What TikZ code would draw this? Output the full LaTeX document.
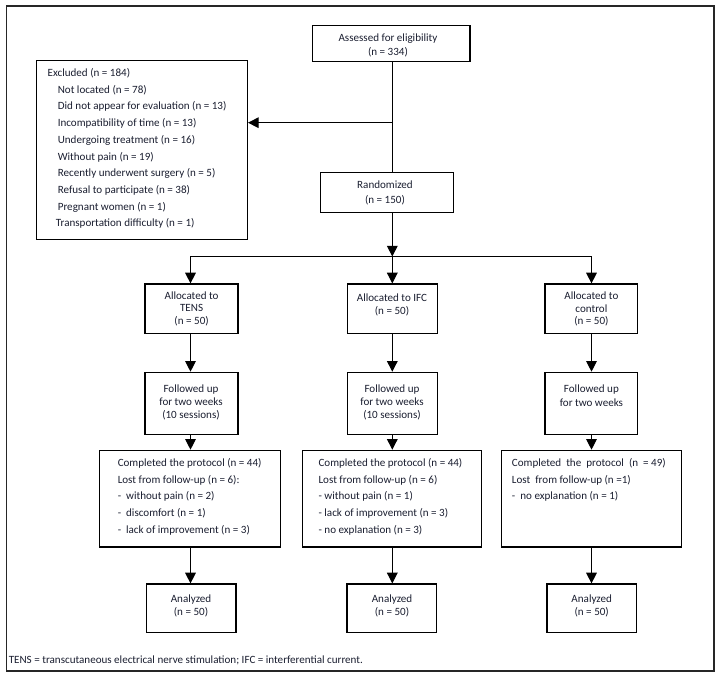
\documentclass[tikz,border=0pt]{standalone}
\usepackage{fontspec}
\setmainfont{Carlito}
\usetikzlibrary{arrows.meta,fit}
\definecolor{ink}{HTML}{1A1E30}
\begin{document}
\begin{tikzpicture}[x=0.75pt,y=-0.75pt,
  box/.style={draw=black, line width=0.9pt, inner sep=0pt},
  lbl/.style={inner sep=0pt, text=ink, align=center, font={\fontsize{8.3}{#1}\selectfont}},
  lbl/.default=10,
  lbll/.style={inner sep=0pt, text=ink, align=left, anchor=north west, font={\fontsize{8.3}{#1}\selectfont}},
  lbll/.default=12.5,
  conn/.style={draw=black, line width=0.75pt},
  arr/.style={conn, -{Triangle[width=8pt,length=8pt]}}]
\useasboundingbox (0,0) rectangle (721,677);
\node[draw=black!85, line width=0.9pt, inner sep=0pt, fit={(6.3,6) (714,671)}] (frame) {};
% boxes
\node[box, fit={(312.6,25.5) (470,61.5)}] (assess) {};
\node[box, fit={(36.8,60.3) (247.4,239.3)}] (excl) {};
\node[box, fit={(320.7,172.3) (453.3,212.3)}] (rand) {};
\node[box, fit={(145,284) (238,333.3)}] (al1) {};
\node[box, fit={(347.2,284) (437.1,333.3)}] (al2) {};
\node[box, fit={(545,284) (637.7,333.3)}] (al3) {};
\node[box, fit={(145,372.3) (238,434.3)}] (fo1) {};
\node[box, fit={(347.2,372.3) (437.1,434.3)}] (fo2) {};
\node[box, fit={(545,372.3) (637.7,434.3)}] (fo3) {};
\node[box, fit={(99.3,450.3) (280.4,547)}] (re1) {};
\node[box, fit={(302.5,450.3) (481.5,547)}] (re2) {};
\node[box, fit={(501.7,450.3) (681.7,547)}] (re3) {};
\node[box, fit={(146.2,584) (235.9,632.3)}] (an1) {};
\node[box, fit={(347,584) (436.8,632.3)}] (an2) {};
\node[box, fit={(547,584) (636.8,632.3)}] (an3) {};
% texts
\node[lbl=10.8] (tassess) at (388,45.5) {Assessed for eligibility\\(n = 334)};
\node[lbll=12.55] (texcl) at (47.4,68) {Excluded (n = 184)\\
\hspace*{7.6pt}Not located (n = 78)\\
\hspace*{7.6pt}Did not appear for evaluation (n = 13)\\
\hspace*{7.6pt}Incompatibility of time (n = 13)\\
\hspace*{7.6pt}Undergoing treatment (n = 16)\\
\hspace*{7.6pt}Without pain (n = 19)\\
\hspace*{7.6pt}Recently underwent surgery (n = 5)\\
\hspace*{7.6pt}Refusal to participate (n = 38)\\
\hspace*{7.6pt}Pregnant women (n = 1)\\
\hspace*{6.2pt}Transportation difficulty (n = 1)};
\node[lbl=11.25] (trand) at (385,192.5) {Randomized\\(n = 150)};
\node[lbl=9.4] (tal1) at (191.6,308.7) {Allocated to\\TENS\\(n = 50)};
\node[lbl=10] (tal2) at (392,305) {Allocated to IFC\\(n = 50)};
\node[lbl=9.6] (tal3) at (591.4,309) {Allocated to\\control\\(n = 50)};
\node[lbl=10] (tfo1) at (191,402.5) {Followed up\\for two weeks\\(10 sessions)};
\node[lbl=10] (tfo2) at (392,402.5) {Followed up\\for two weeks\\(10 sessions)};
\node[lbl=10.5] (tfo3) at (591.4,396) {Followed up\\for two weeks};
\node[lbll] (tre1) at (117.5,458) {Completed the protocol (n = 44)\\
Lost from follow-up (n = 6):\\
- \ without pain (n = 2)\\
- \ discomfort (n = 1)\\
- \ lack of improvement (n = 3)};
\node[lbll] (tre2) at (318.3,458) {Completed the protocol (n = 44)\\
Lost from follow-up (n = 6)\\
- without pain (n = 1)\\
- lack of improvement (n = 3)\\
- no explanation (n = 3)};
\node[lbll] (tre3) at (511.7,458) {Completed\ \ the\ \ protocol\ \ (n \ = 49)\\
Lost\ \ from follow-up (n =1)\\
- \ no explanation (n = 1)};
\node[lbl] (tan1) at (191,606) {Analyzed\\(n = 50)};
\node[lbl] (tan2) at (392,606) {Analyzed\\(n = 50)};
\node[lbl] (tan3) at (591.7,606) {Analyzed\\(n = 50)};
\node[inner sep=0pt, text=ink, anchor=west, font={\fontsize{8.3}{9}\selectfont}] (foot) at (8.5,660) {TENS = transcutaneous electrical nerve stimulation; IFC = interferential current.};
% connectors
\coordinate (sp) at (392.3,0);
\coordinate (exj) at (392.3,122.7);
\coordinate (h1) at (190.5,256.5);
\coordinate (h2) at (392.3,256.5);
\coordinate (h3) at (591.5,256.5);
\draw[conn] (assess.south -| sp) -- (rand.north -| sp);
\draw[arr] (exj) -- (exj -| excl.east);
\draw[arr] (rand.south -| sp) -- (h2);
\draw[conn] (h1) -- (h3);
\foreach \c/\i in {h1/1,h2/2,h3/3}{
  \draw[arr] (\c) -- (\c |- al\i.north);
  \draw[arr] (al\i.south -| \c) -- (fo\i.north -| \c);
  \draw[arr] (fo\i.south -| \c) -- (re\i.north -| \c);
  \draw[arr] (re\i.south -| \c) -- (an\i.north -| \c);
}
\end{tikzpicture}
\end{document}
